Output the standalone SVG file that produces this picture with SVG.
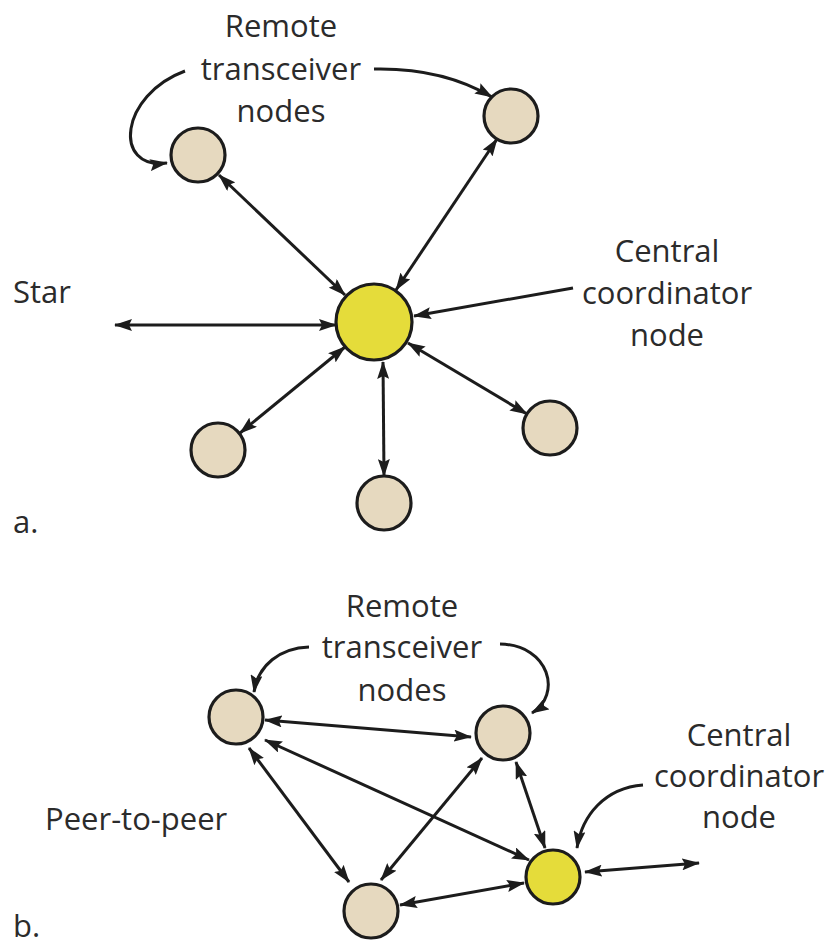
<svg xmlns="http://www.w3.org/2000/svg" width="830" height="947" viewBox="0 0 830 947">
<style>
.bg{fill:#ffffff}
.n{fill:#e6d9bf;stroke:#1c1c1c;stroke-width:3.2}
.c{fill:#e5dc3a;stroke:#1c1c1c;stroke-width:3.2}
.e{fill:none;stroke:#1c1c1c;stroke-width:3}
.t{font-family:"Open Sans","Liberation Sans",sans-serif;font-size:31px;fill:#2b2b2b}
.m{text-anchor:middle}
</style>
<defs>
<marker id="ah" viewBox="0 0 18 12" refX="17" refY="6" markerWidth="18" markerHeight="12" markerUnits="userSpaceOnUse" orient="auto-start-reverse">
<path d="M0,0 L18,6 L0,12 L3,6 z" fill="#1c1c1c"/>
</marker>
</defs>
<rect class="bg" x="0" y="0" width="830" height="947"/>
<g id="connectors">
<path class="e" d="M219,175 L345,295" marker-start="url(#ah)" marker-end="url(#ah)"/>
<path class="e" d="M497,139 L396,290" marker-start="url(#ah)" marker-end="url(#ah)"/>
<path class="e" d="M573,288 L414,316" marker-end="url(#ah)"/>
<path class="e" d="M115,325 L336,325" marker-start="url(#ah)" marker-end="url(#ah)"/>
<path class="e" d="M240,433 L345,347" marker-start="url(#ah)" marker-end="url(#ah)"/>
<path class="e" d="M383,362 L384,476" marker-start="url(#ah)" marker-end="url(#ah)"/>
<path class="e" d="M527,414 L408,343" marker-start="url(#ah)" marker-end="url(#ah)"/>
<path class="e" d="M185,71 C120,95 112,170 167,163" marker-end="url(#ah)"/>
<path class="e" d="M374,69 C420,68 460,78 492,97" marker-end="url(#ah)"/>
<path class="e" d="M265,720 L471,737" marker-start="url(#ah)" marker-end="url(#ah)"/>
<path class="e" d="M265,740 L529,860" marker-start="url(#ah)" marker-end="url(#ah)"/>
<path class="e" d="M249,748 L349,882" marker-start="url(#ah)" marker-end="url(#ah)"/>
<path class="e" d="M482,758 L381,880" marker-start="url(#ah)" marker-end="url(#ah)"/>
<path class="e" d="M516,762 L545,848" marker-start="url(#ah)" marker-end="url(#ah)"/>
<path class="e" d="M400,905 L524,883" marker-start="url(#ah)" marker-end="url(#ah)"/>
<path class="e" d="M585,872 L699,863" marker-start="url(#ah)" marker-end="url(#ah)"/>
<path class="e" d="M309,647 C280,648 258,665 254,692" marker-end="url(#ah)"/>
<path class="e" d="M500,644 C550,645 562,695 532,713" marker-end="url(#ah)"/>
<path class="e" d="M643,785 C605,788 582,815 577,848" marker-end="url(#ah)"/>
</g>
<g id="a-remote-tl"><circle class="n" cx="198" cy="155" r="27"/></g>
<g id="a-remote-tr"><circle class="n" cx="511" cy="116" r="27"/></g>
<g id="a-central"><circle class="c" cx="374" cy="322" r="38"/></g>
<g id="a-remote-bl"><circle class="n" cx="218" cy="450" r="27"/></g>
<g id="a-remote-bm"><circle class="n" cx="384" cy="503" r="27"/></g>
<g id="a-remote-br"><circle class="n" cx="550" cy="428" r="27"/></g>
<g id="b-remote-tl"><circle class="n" cx="236" cy="717" r="27"/></g>
<g id="b-remote-tr"><circle class="n" cx="503" cy="733" r="27"/></g>
<g id="b-remote-b"><circle class="n" cx="371" cy="911" r="27"/></g>
<g id="b-central"><circle class="c" cx="553" cy="877" r="27"/></g>
<g id="labels">
<text class="t m" x="281" y="37">Remote</text>
<text class="t m" x="281" y="80">transceiver</text>
<text class="t m" x="281" y="122">nodes</text>
<text class="t m" x="667" y="262">Central</text>
<text class="t m" x="667" y="304">coordinator</text>
<text class="t m" x="667" y="346">node</text>
<text class="t" x="13" y="303">Star</text>
<text class="t" x="13" y="533">a.</text>
<text class="t m" x="402" y="617">Remote</text>
<text class="t m" x="402" y="658">transceiver</text>
<text class="t m" x="402" y="701">nodes</text>
<text class="t m" x="739" y="746">Central</text>
<text class="t m" x="739" y="787">coordinator</text>
<text class="t m" x="739" y="828">node</text>
<text class="t" x="45" y="830">Peer-to-peer</text>
<text class="t" x="13" y="937">b.</text>
</g>
</svg>
